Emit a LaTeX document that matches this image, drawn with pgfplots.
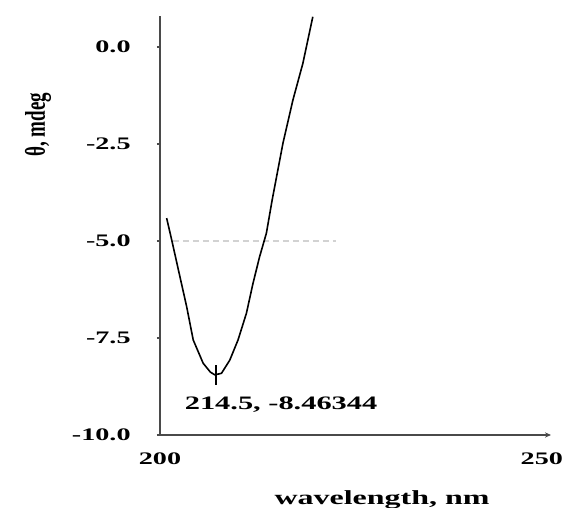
\documentclass[border=0pt]{standalone}
\usepackage{pgfplots}
\pgfplotsset{compat=1.18}
\usepackage{fontspec}
\setmainfont[FakeStretch=1.6]{Liberation Serif}
\newfontfamily\ylabfont{Liberation Serif}
\usetikzlibrary{arrows.meta}
\definecolor{axisgray}{HTML}{4A4A4A}

\begin{document}
\begin{tikzpicture}
\path[use as bounding box] (-80pt,-36.5pt) rectangle (205pt,217.5pt);
\begin{axis}[
    at={(0pt,0pt)}, anchor=south west,
    scale only axis,
    width=195.5pt, height=209.5pt,
    xmin=200, xmax=251.2,
    ymin=-10, ymax=0.8,
    axis x line=bottom, axis y line=left,
    x axis line style={axisgray, line width=0.9pt, -{Stealth[length=3pt,width=2.6pt]}},
    y axis line style={axisgray, line width=0.9pt, -},
    xtick={200,250}, xticklabels={200,250},
    ytick={-10,-7.5,-5,-2.5,0},
    yticklabels={-10.0,-7.5,-5.0,-2.5,0.0},
    tick align=outside, major tick length=1.5pt,
    x tick style={draw=none},
    y tick style={axisgray, line width=0.8pt},
    xticklabel style={font=\fontsize{8.8}{10}\selectfont\bfseries, inner sep=0pt, anchor=north, yshift=-7pt},
    yticklabel style={font=\fontsize{8.8}{10}\selectfont\bfseries, inner sep=0pt, anchor=east, xshift=-13pt},
    xlabel={wavelength, nm},
    xlabel style={font=\fontsize{10}{12}\selectfont\bfseries, at={(axis description cs:0.568,0)}, anchor=center, yshift=-32.5pt},
    ylabel={\scalebox{1}[1.5]{\ylabfont\fontsize{9.5}{11}\selectfont\bfseries θ, mdeg}},
    ylabel style={at={(axis description cs:-0.312,0.74)}, anchor=center},
    clip=true,
]
% faint reference line at -5
\addplot[gray!35, line width=0.6pt, densely dashed] coordinates {(201.7,-5) (223.1,-5)};
% CD spectrum
\addplot[black, line width=0.8pt] coordinates {
 (200.87,-4.41) (201.53,-4.97) (202.61,-5.92) (203.49,-6.69) (204.35,-7.55)
 (205.65,-8.15) (206.60,-8.38) (207.18,-8.45) (208.05,-8.41) (209.14,-8.07)
 (210.22,-7.55) (211.32,-6.86) (212.18,-6.09) (213.05,-5.40) (213.93,-4.80)
 (214.69,-3.94) (216.10,-2.48) (217.40,-1.37) (218.71,-0.42) (220.01,0.78)
};
% minimum marker
\addplot[black, line width=0.8pt] coordinates {(207.3,-8.2) (207.3,-8.72)};
\node[anchor=west, inner sep=0pt, font=\fontsize{9.5}{11}\selectfont\bfseries]
  at (axis cs:203.2,-9.23) {214.5, -8.46344};
\end{axis}
\end{tikzpicture}
\end{document}
